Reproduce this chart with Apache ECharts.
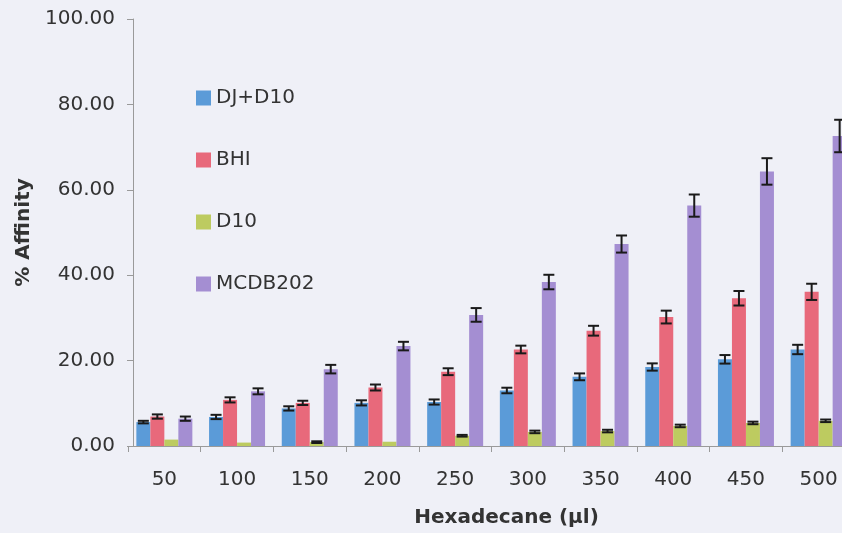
<!DOCTYPE html>
<html>
<head>
<meta charset="utf-8">
<script src="https://cdn.jsdelivr.net/npm/echarts@6/dist/echarts.min.js"></script>
<style>
html,body{margin:0;padding:0;background:#eff0f7;overflow:hidden;width:842px;height:533px;}
#chart{width:870px;height:533px;}
</style>
</head>
<body>
<div id="chart"></div>
<script>
const categories = ['50','100','150','200','250','300','350','400','450','500'];
const seriesNames = ['DJ+D10','BHI','D10','MCDB202'];
const djD10 = [5.6, 6.8, 8.8, 10.1, 10.3, 13.0, 16.2, 18.5, 20.3, 22.6];
const djD10Err = [0.3, 0.5, 0.5, 0.6, 0.6, 0.65, 0.8, 0.85, 1.0, 1.1];
const bhi = [6.9, 10.8, 10.1, 13.7, 17.4, 22.6, 27.0, 30.2, 34.6, 36.1];
const bhiErr = [0.5, 0.6, 0.5, 0.7, 0.8, 0.9, 1.15, 1.5, 1.7, 1.9];
const d10 = [1.5, 0.8, 0.9, 1.0, 2.4, 3.3, 3.5, 4.7, 5.4, 5.9];
const d10Err = [0, 0, 0.2, 0, 0.2, 0.3, 0.3, 0.3, 0.3, 0.3];
const mcdb202 = [6.4, 12.8, 18.0, 23.4, 30.7, 38.4, 47.3, 56.3, 64.3, 72.6];
const mcdb202Err = [0.5, 0.7, 1.0, 1.0, 1.6, 1.7, 2.0, 2.6, 3.1, 3.8];
const yTicks = [0, 20, 40, 60, 80, 100];

const values = [djD10, bhi, d10, mcdb202];
const errors = [djD10Err, bhiErr, d10Err, mcdb202Err];
const colors = ['#5b9bd8', '#e8697b', '#bdcb60', '#a48ed2'];
const BAR_W = 14;
const FONT = 'DejaVu Sans';

const chart = echarts.init(document.getElementById('chart'));

const series = [];
values.forEach((vals, k) => {
  series.push({
    name: seriesNames[k],
    type: 'bar',
    data: vals,
    barWidth: BAR_W,
    barGap: '0%',
    itemStyle: { color: colors[k] },
    z: 2
  });
});
values.forEach((vals, k) => {
  const offset = (k - 1.5) * BAR_W;
  series.push({
    name: seriesNames[k] + ' error',
    type: 'custom',
    z: 5,
    silent: true,
    data: vals.map((v, i) => [i, v - errors[k][i], v + errors[k][i], errors[k][i]]),
    encode: { x: 0, y: [1, 2] },
    renderItem: function (params, api) {
      if (api.value(3) <= 0) return null;
      const lo = api.coord([api.value(0), api.value(1)]);
      const hi = api.coord([api.value(0), api.value(2)]);
      const x = lo[0] + offset;
      const hw = 5.5;
      const style = { stroke: '#1a1a1a', lineWidth: 2 };
      return {
        type: 'group',
        children: [
          { type: 'line', shape: { x1: x, y1: lo[1], x2: x, y2: hi[1] }, style: style },
          { type: 'line', shape: { x1: x - hw, y1: lo[1], x2: x + hw, y2: lo[1] }, style: style },
          { type: 'line', shape: { x1: x - hw, y1: hi[1], x2: x + hw, y2: hi[1] }, style: style }
        ]
      };
    }
  });
});

chart.setOption({
  backgroundColor: '#eff0f7',
  animation: false,
  textStyle: { fontFamily: FONT },
  grid: { left: 128, top: 19, width: 727, height: 432 },
  legend: {
    data: seriesNames,
    orient: 'vertical',
    left: 191,
    top: 83,
    itemWidth: 15,
    itemHeight: 15,
    itemGap: 42,
    icon: 'rect',
    textStyle: { fontSize: 20, color: '#333', fontFamily: FONT, lineHeight: 20 }
  },
  xAxis: {
    type: 'category',
    data: categories,
    name: 'Hexadecane (µl)',
    nameLocation: 'middle',
    nameGap: 62,
    nameTextStyle: { fontSize: 20, fontWeight: 'bold', color: '#333', fontFamily: FONT, padding: [0, 0, 0, 30] },
    axisLine: { lineStyle: { color: '#9a9a9a', width: 1 } },
    axisTick: { show: true, length: 6, lineStyle: { color: '#9a9a9a' } },
    axisLabel: { fontSize: 20, color: '#333', margin: 24, fontFamily: FONT }
  },
  yAxis: {
    type: 'value',
    min: yTicks[0],
    max: yTicks[yTicks.length - 1],
    interval: yTicks[1] - yTicks[0],
    offset: -5,
    name: '% Affinity',
    nameLocation: 'middle',
    nameGap: 98,
    nameTextStyle: { fontSize: 20, fontWeight: 'bold', color: '#333', fontFamily: FONT },
    axisLine: { show: true, lineStyle: { color: '#9a9a9a', width: 1 } },
    axisTick: { show: true, length: 6, lineStyle: { color: '#9a9a9a' } },
    splitLine: { show: false },
    axisLabel: { fontSize: 20, color: '#333', margin: 18, fontFamily: FONT, formatter: v => v.toFixed(2) }
  },
  series: series
});
</script>
</body>
</html>
